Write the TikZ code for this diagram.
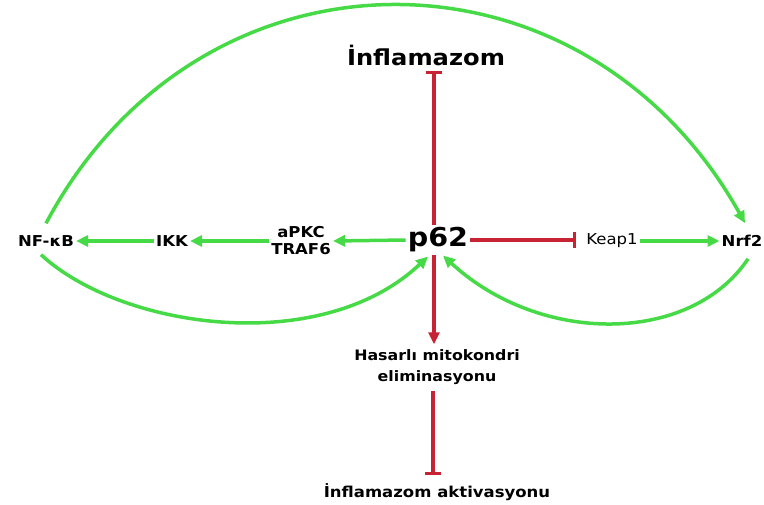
\documentclass[tikz,border=0pt]{standalone}
\usepackage{fontspec}
\setmainfont{DejaVu Sans}[FakeStretch=1.1]
\usetikzlibrary{arrows.meta}
\definecolor{actgreen}{RGB}{70,218,70}
\definecolor{inhred}{RGB}{200,35,50}
\begin{document}
\begin{tikzpicture}[x=1pt,y=-1pt,
    lbl/.style={inner sep=2pt, font=\fontsize{15}{17}\selectfont\bfseries},
    act/.style={draw=actgreen, line width=3.5pt, -{Triangle[length=12pt,width=11pt]}},
    inh/.style={draw=inhred, line width=3.5pt, -{Bar[width=16pt,line width=3.5pt]}}]
  \useasboundingbox (0,0) rectangle (764,504);

  \node[lbl, font=\fontsize{22}{26}\selectfont\bfseries] (infl) at (426,55) {İnflamazom};
  \node[lbl, font=\fontsize{26}{30}\selectfont\bfseries] (p62) at (438,240) {p62};
  \node[lbl] (nfkb) at (46,241) {NF-κB};
  \node[lbl, align=center] (apkc) at (301,241) {aPKC\\TRAF6};
  \node[lbl] (ikk) at (172,241) {IKK};
  \node[lbl, font=\fontsize{15}{17}\selectfont] (keap) at (612,241) {Keap1};
  \node[lbl] (nrf) at (742,241) {Nrf2};
  \node[lbl, align=center, font=\fontsize{14.4}{21}\selectfont\bfseries] (hasar) at (437,367) {Hasarlı mitokondri\\eliminasyonu};
  \node[lbl, font=\fontsize{15}{17}\selectfont\bfseries] (aktiv) at (437,492) {İnflamazom aktivasyonu};

  % red branches
  \draw[inh] ([xshift=-4pt]p62.north) -- ([xshift=-4pt,yshift=-3pt]p62.north |- infl.south);
  \draw[inh] (p62.east) -- ([xshift=-8pt]keap.west |- p62.east);
  \draw[inh] ([xshift=-4pt,yshift=-4pt]hasar.south) -- ([xshift=-4pt,yshift=6pt]hasar.south |- aktiv.north);
  \draw[draw=inhred, line width=3.5pt, -{Triangle[length=12pt,width=11pt]}] ([xshift=-4pt]p62.south) -- ([xshift=-4pt,yshift=3pt]p62.south |- hasar.north);

  % green branches
  \draw[act] (p62.west) -- (apkc.east);
  \draw[act] (apkc.west) -- (ikk.east);
  \draw[act] (ikk.west) -- (nfkb.east);
  \draw[act] (keap.east) -- (nrf.west);
  \draw[act] ([yshift=10pt]nfkb.north) .. controls +(154,-290) and +(-162,-290) .. ([xshift=3pt,yshift=10pt]nrf.north);
  \draw[act] ([xshift=-5pt,yshift=-6pt]nfkb.south) .. controls (120,328) and (320,358) .. ([xshift=-10pt,yshift=-2pt]p62.south);
  \draw[act] ([xshift=6pt,yshift=-10pt]nrf.south) .. controls (690,345) and (540,345) .. ([xshift=5pt,yshift=-1pt]p62.south);
\end{tikzpicture}
\end{document}
